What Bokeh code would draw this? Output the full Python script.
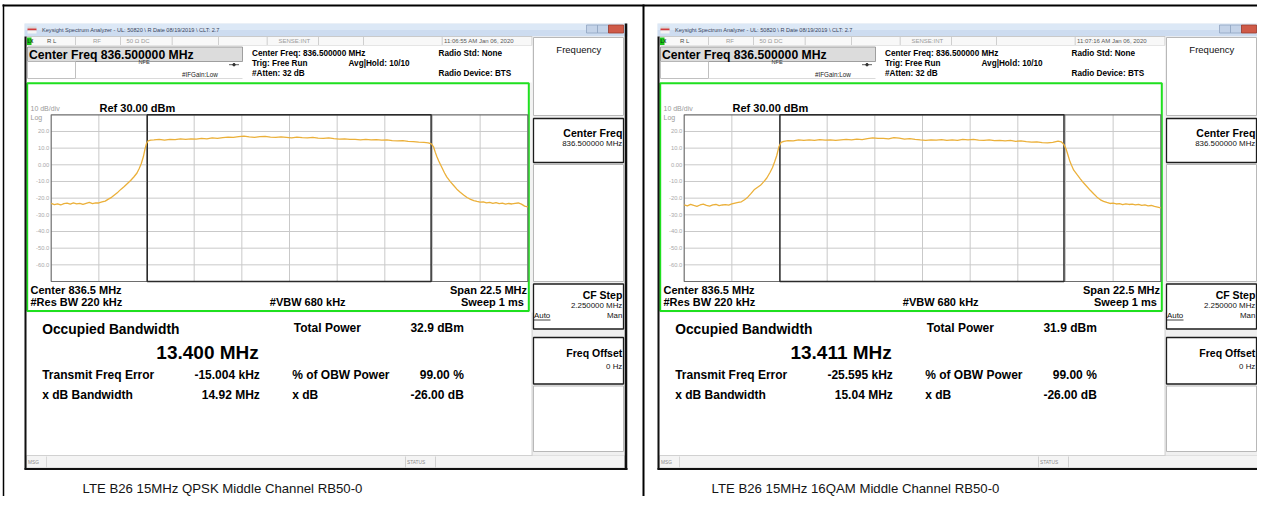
from bokeh.plotting import figure
from bokeh.models import Range1d
from bokeh.core.properties import value
from bokeh.embed import file_html
from bokeh.resources import INLINE

# ---------------- data ----------------
CENTER_MHZ = 836.5
SPAN_MHZ = 22.5
REF_DBM = 30.0
DB_PER_DIV = 10.0
N_DIV = 10
db_tick_values = [20, 10, 0, -10, -20, -30, -40, -50, -60]
db_tick_labels = ["20.0", "10.0", "0.00", "-10.0", "-20.0", "-30.0", "-40.0", "-50.0", "-60.0"]

captions = ["LTE B26 15MHz QPSK Middle Channel RB50-0",
            "LTE B26 15MHz 16QAM Middle Channel RB50-0"]
timestamps = ["11:06:55 AM Jan 06, 2020", "11:07:16 AM Jan 06, 2020"]
occupied_bw_mhz = [13.400, 13.411]
freq_error_khz = [-15.004, -25.595]
total_power_dbm = [32.9, 31.9]
xdb_bw_mhz = [14.92, 15.04]
obw_power_pct = [99.00, 99.00]
xdb_db = [-26.00, -26.00]

qpsk_freq_mhz = [
    825.25, 825.40, 825.55, 825.70, 825.85, 826.00, 826.15, 826.30, 826.45, 826.60,
    826.75, 826.90, 827.05, 827.20, 827.35, 827.50, 827.65, 827.80, 827.95, 828.10,
    828.25, 828.40, 828.55, 828.70, 828.85, 829.00, 829.15, 829.30, 829.40, 829.50,
    829.60, 829.68, 829.75, 829.82, 829.95, 830.10, 830.35, 830.60, 830.85, 831.10,
    831.35, 831.60, 831.85, 832.10, 832.35, 832.60, 832.85, 833.10, 833.35, 833.60,
    833.85, 834.10, 834.35, 834.60, 834.85, 835.10, 835.35, 835.60, 835.85, 836.10,
    836.35, 836.60, 836.85, 837.10, 837.35, 837.60, 837.85, 838.10, 838.35, 838.60,
    838.85, 839.10, 839.35, 839.60, 839.85, 840.10, 840.35, 840.60, 840.85, 841.10,
    841.35, 841.60, 841.85, 842.10, 842.35, 842.60, 842.85, 843.05, 843.20, 843.30,
    843.38, 843.46, 843.54, 843.62, 843.70, 843.82, 843.93, 844.10, 844.25, 844.40,
    844.56, 844.72, 844.88, 845.05, 845.20, 845.35, 845.50, 845.65, 845.80, 845.95,
    846.10, 846.25, 846.40, 846.55, 846.70, 846.85, 847.00, 847.15, 847.30, 847.45,
    847.60, 847.75]
qpsk_dbm = [
    -23.2, -23.9, -23.4, -24.1, -23.3, -23.0, -23.6, -22.9, -23.4, -23.1,
    -23.8, -23.2, -22.6, -23.3, -22.8, -22.9, -22.3, -21.8, -20.6, -19.5,
    -17.9, -16.4, -14.6, -13.0, -11.2, -9.4, -7.3, -4.9, -2.4, 0.6,
    4.8, 9.6, 12.8, 14.3, 14.8, 14.9, 15.2, 14.8, 15.3, 15.1,
    15.5, 15.2, 15.6, 15.4, 15.8, 15.6, 16.1, 15.9, 16.3, 16.6,
    16.4, 16.9, 17.2, 16.8, 16.5, 16.9, 17.0, 16.6, 16.4, 16.8,
    16.5, 16.2, 16.6, 16.3, 16.1, 16.4, 16.0, 15.8, 16.1, 15.7,
    15.4, 15.6, 15.2, 15.3, 15.0, 15.2, 14.9, 15.1, 14.8, 15.0,
    14.5, 14.3, 14.5, 14.0, 13.9, 13.6, 13.4, 13.2, 12.5, 10.8,
    7.6, 4.8, 2.4, 0.3, -1.8, -4.9, -7.4, -10.2, -12.4, -14.6,
    -16.4, -18.1, -19.6, -20.7, -21.5, -22.0, -22.4, -22.2, -22.8, -22.5,
    -23.1, -22.7, -23.3, -23.0, -23.6, -23.2, -23.5, -23.1, -22.9, -23.6,
    -24.8, -25.3]

qam16_freq_mhz = [
    825.25, 825.40, 825.55, 825.70, 825.85, 826.00, 826.15, 826.30, 826.45, 826.60,
    826.75, 826.90, 827.05, 827.20, 827.35, 827.50, 827.65, 827.80, 827.95, 828.10,
    828.25, 828.40, 828.55, 828.70, 828.85, 829.00, 829.15, 829.30, 829.42, 829.52,
    829.62, 829.72, 829.82, 829.95, 830.15, 830.40, 830.65, 830.90, 831.15, 831.40,
    831.65, 831.90, 832.15, 832.40, 832.65, 832.90, 833.15, 833.40, 833.65, 833.90,
    834.15, 834.40, 834.65, 834.90, 835.15, 835.40, 835.65, 835.90, 836.15, 836.40,
    836.65, 836.90, 837.15, 837.40, 837.65, 837.90, 838.15, 838.40, 838.65, 838.90,
    839.15, 839.40, 839.65, 839.90, 840.15, 840.40, 840.65, 840.90, 841.15, 841.40,
    841.65, 841.90, 842.15, 842.40, 842.65, 842.90, 843.05, 843.18, 843.28, 843.36,
    843.44, 843.54, 843.64, 843.80, 843.95, 844.10, 844.26, 844.42, 844.58, 844.74,
    844.90, 845.05, 845.20, 845.35, 845.50, 845.65, 845.80, 845.95, 846.10, 846.25,
    846.40, 846.55, 846.70, 846.85, 847.00, 847.15, 847.30, 847.45, 847.60, 847.75]
qam16_dbm = [
    -24.0, -24.6, -23.7, -24.4, -24.9, -24.1, -23.6, -24.3, -24.8, -24.0,
    -23.8, -24.5, -24.1, -23.9, -24.2, -23.5, -23.0, -22.6, -22.2, -21.0,
    -19.4, -17.3, -15.0, -13.6, -12.3, -10.2, -7.9, -4.6, -1.6, 1.8,
    5.6, 10.8, 13.4, 14.1, 14.5, 14.3, 14.9, 14.6, 15.0, 14.7,
    15.1, 14.8, 15.0, 14.6, 14.9, 15.2, 15.0, 15.4, 15.1, 15.7,
    16.1, 15.8, 15.9, 15.6, 16.3, 16.0, 15.4, 15.7, 15.2, 14.9,
    14.7, 15.0, 14.8, 15.1, 14.6, 14.9, 14.7, 15.2, 15.0, 15.3,
    14.8, 14.6, 14.9, 14.5, 14.7, 14.3, 14.6, 14.1, 14.4, 13.9,
    13.6, 13.8, 13.3, 13.1, 13.5, 14.2, 13.8, 12.1, 9.4, 6.2,
    2.8, -0.4, -3.2, -5.9, -8.4, -10.8, -13.0, -15.3, -17.4, -19.4,
    -21.0, -21.9, -22.6, -23.2, -23.0, -23.5, -23.3, -23.9, -23.4, -23.8,
    -23.6, -24.1, -23.7, -24.3, -24.0, -24.6, -24.4, -25.0, -25.4, -25.8]

traces = [(qpsk_freq_mhz, qpsk_dbm), (qam16_freq_mhz, qam16_dbm)]

# ---------------- canvas ----------------
FONT = "Liberation Sans"
W, H = 1257, 496
X0, Y0 = 0, 0

p = figure(width=W, height=H, x_range=Range1d(X0, X0 + W), y_range=Range1d(Y0 + H, Y0),
           output_backend="svg", toolbar_location=None, tools="", min_border=0,
           x_axis_location=None, y_axis_location=None)
p.grid.visible = False
p.outline_line_color = None
p.background_fill_color = "white"
p.border_fill_color = "white"

extra_x = {}
extra_y = {}


def txt(x, y, s, size, bold=False, color="#000000", align="left", baseline="middle"):
    p.text(x=[x], y=[y], text=[s], text_font=value(FONT), text_font_size=f"{size}px",
           text_font_style="bold" if bold else "normal", text_color=color,
           text_align=align, text_baseline=baseline)


def box(l, r, t, b, fill=None, line=None, lw=1.0):
    p.quad(left=[l], right=[r], top=[t], bottom=[b],
           fill_color=fill if fill else "white", fill_alpha=1.0 if fill else 0.0,
           line_color=line, line_width=lw)


def seg(x0, y0, x1, y1, color="#000000", lw=1.0):
    p.segment(x0=[x0], y0=[y0], x1=[x1], y1=[y1], line_color=color, line_width=lw)


def panel(i, dx):
    # window frame
    box(24 + dx, 627 + dx, 23, 469, fill="#f3f3f3")
    box(24 + dx, 627 + dx, 23, 29.5, fill="#dce8f6")
    box(24 + dx, 627 + dx, 29.5, 36, fill="#cddcf0")
    box(27 + dx, 36 + dx, 26, 28, fill="#d8d8d8")
    box(27 + dx, 36 + dx, 28, 30, fill="#d23c3c")
    box(27 + dx, 36 + dx, 30, 33, fill="#f4f4f4")
    txt(41.5 + dx, 29.8, "Keysight Spectrum Analyzer - UL: 50820 \\ R Date 08/19/2019 \\ CLT: 2.7",
        5.6, color="#3a4660")
    box(586 + dx, 597 + dx, 24.5, 32.5, fill="#c4d3e8", line="#91a5c2", lw=0.8)
    box(597 + dx, 608 + dx, 24.5, 32.5, fill="#c4d3e8", line="#91a5c2", lw=0.8)
    box(608 + dx, 623 + dx, 24.5, 32.5, fill="#cf5a48", line="#9b3a2c", lw=0.8)

    # status row
    box(26 + dx, 531.5 + dx, 36, 45, fill="#f8f8f8", line="#c0c0c0", lw=0.8)
    for sx in [75, 120, 171.7, 218, 266.7, 318, 363, 441.7]:
        seg(sx + dx, 36.5, sx + dx, 44.5, color="#c4c4c4", lw=0.8)
    box(26.5 + dx, 31 + dx, 37, 44.5, fill="#19c419")
    txt(27 + dx, 40.8, "LX", 4.5, bold=True, color="#0a3a0a")
    txt(46.5 + dx, 40.8, "R L", 6, color="#4a4a4a")
    txt(92.5 + dx, 40.8, "RF", 6, color="#9a9a9a")
    txt(126 + dx, 40.8, "50 \u03a9   DC", 6, color="#9a9a9a")
    txt(278 + dx, 40.8, "SENSE:INT", 6, color="#9a9a9a")
    txt(443.5 + dx, 40.8, timestamps[i], 6, color="#5a5a5a")

    # header
    box(26 + dx, 531.5 + dx, 45, 82, fill="#ffffff")
    box(27 + dx, 242 + dx, 46.5, 61, fill="#dcdcdc", line="#8a8a8a", lw=0.8)
    box(27 + dx, 75 + dx, 61, 78, fill="#ffffff", line="#b0b0b0", lw=0.8)
    seg(75 + dx, 78, 242 + dx, 78, color="#d0d0d0", lw=0.8)
    txt(28.5 + dx, 54, "Center Freq 836.500000 MHz", 12.2, bold=True)
    txt(138 + dx, 61.7, "NFE", 5.6, color="#333333")
    txt(181.5 + dx, 74.3, "#IFGain:Low", 6.3, color="#222222")
    seg(228.5 + dx, 64.2, 238.5 + dx, 64.2, color="#333333", lw=0.8)
    p.scatter(x=[233.5 + dx], y=[64.2], size=2.5, color="#333333")
    txt(251.5 + dx, 53.3, "Center Freq: 836.500000 MHz", 8.2, bold=True)
    txt(251.5 + dx, 63.3, "Trig: Free Run", 8.2, bold=True)
    txt(251.5 + dx, 73.3, "#Atten: 32 dB", 8.2, bold=True)
    txt(348 + dx, 63.3, "Avg|Hold: 10/10", 8.2, bold=True)
    txt(438 + dx, 53.3, "Radio Std: None", 8.2, bold=True)
    txt(438 + dx, 73.3, "Radio Device: BTS", 8.2, bold=True)

    # green measurement window
    box(26.7 + dx, 528.3 + dx, 82.7, 310.5, fill="#ffffff", line="#1fe01f", lw=2)
    txt(30 + dx, 107.7, "10 dB/div", 7, color="#9a9a9a")
    txt(30 + dx, 117.3, "Log", 7, color="#9a9a9a")
    txt(99 + dx, 107.7, "Ref 30.00 dBm", 11, bold=True)

    # graticule driven by the frequency / level scales
    gx0, gx1 = 50.7 + dx, 527.3 + dx
    gy0, gy1 = 114.3, 281.0
    f0 = CENTER_MHZ - SPAN_MHZ / 2
    f1 = CENTER_MHZ + SPAN_MHZ / 2
    s = (f1 - f0) / (gx1 - gx0)
    top = REF_DBM
    bot = REF_DBM - DB_PER_DIV * N_DIV
    k = (top - bot) / (gy1 - gy0)
    xn, yn = f"f{i}", f"a{i}"
    extra_x[xn] = Range1d(f0 - (gx0 - X0) * s, f1 + (X0 + W - gx1) * s)
    extra_y[yn] = Range1d(bot - (Y0 + H - gy1) * k, top + (gy0 - Y0) * k)
    kw = dict(x_range_name=xn, y_range_name=yn)

    vx = [f0 + j * SPAN_MHZ / N_DIV for j in range(1, N_DIV)]
    p.segment(x0=vx, y0=[bot] * len(vx), x1=vx, y1=[top] * len(vx),
              line_color="#c9c9c9", line_width=1, **kw)
    hy = [top - j * DB_PER_DIV for j in range(1, N_DIV)]
    p.segment(x0=[f0] * len(hy), y0=hy, x1=[f1] * len(hy), y1=hy,
              line_color="#c9c9c9", line_width=1, **kw)
    p.quad(left=[f0], right=[f1], top=[top], bottom=[bot], fill_alpha=0,
           line_color="#6e6e6e", line_width=1.2, **kw)
    c = CENTER_MHZ + freq_error_khz[i] / 1000.0
    lo, hi = c - occupied_bw_mhz[i] / 2, c + occupied_bw_mhz[i] / 2
    p.quad(left=[lo], right=[hi], top=[top], bottom=[bot], fill_alpha=0,
           line_color="#2b2b2b", line_width=1.5, **kw)
    p.text(x=[gx0 - 2] * len(db_tick_values), y=db_tick_values, text=db_tick_labels,
           y_range_name=yn, text_font=value(FONT), text_font_size="5.8px",
           text_color="#a8a8a8", text_align="right", text_baseline="middle")
    fr, lv = traces[i]
    p.line(x=fr, y=lv, line_color="#ebb03a", line_width=1.3, **kw)

    txt(30 + dx, 289.3, "Center  836.5 MHz", 11, bold=True)
    txt(30 + dx, 301.7, "#Res BW  220 kHz", 11, bold=True)
    txt(308.7 + dx, 301.7, "#VBW  680 kHz", 11, bold=True, align="center")
    txt(526.5 + dx, 289.3, "Span 22.5 MHz", 11, bold=True, align="right")
    txt(526.5 + dx, 301.7, "Sweep  1 ms", 11, bold=True, align="right")

    # results area
    box(26 + dx, 531.5 + dx, 312, 455, fill="#ffffff")
    seg(531.7 + dx, 312, 531.7 + dx, 455, color="#b8b8b8", lw=1)
    txt(41.7 + dx, 328.8, "Occupied Bandwidth", 13.8, bold=True)
    txt(258.3 + dx, 351.7, f"{occupied_bw_mhz[i]:.3f} MHz", 19, bold=True, align="right")
    txt(293.3 + dx, 327.3, "Total Power", 12, bold=True)
    txt(463.3 + dx, 327.3, f"{total_power_dbm[i]:.1f} dBm", 12, bold=True, align="right")
    txt(41.7 + dx, 374.5, "Transmit Freq Error", 12, bold=True)
    txt(259.3 + dx, 374.5, f"{freq_error_khz[i]:.3f} kHz", 12, bold=True, align="right")
    txt(291.7 + dx, 374.5, "% of OBW Power", 12, bold=True)
    txt(463.3 + dx, 374.5, f"{obw_power_pct[i]:.2f} %", 12, bold=True, align="right")
    txt(41.7 + dx, 394.5, "x dB Bandwidth", 12, bold=True)
    txt(259.3 + dx, 394.5, f"{xdb_bw_mhz[i]:.2f} MHz", 12, bold=True, align="right")
    txt(291.7 + dx, 394.5, "x dB", 12, bold=True)
    txt(463.3 + dx, 394.5, f"{xdb_db[i]:.2f} dB", 12, bold=True, align="right")

    # message bar
    box(26 + dx, 624 + dx, 455, 467.5, fill="#f4f4f4", line="#c8c8c8", lw=0.8)
    seg(46 + dx, 456, 46 + dx, 467, color="#d0d0d0", lw=0.8)
    seg(405 + dx, 456, 405 + dx, 467, color="#c8c8c8", lw=0.8)
    seg(435 + dx, 456, 435 + dx, 467, color="#c8c8c8", lw=0.8)
    txt(27.5 + dx, 462, "MSG", 4.8, color="#8a8a8a")
    txt(406.5 + dx, 462, "STATUS", 4.8, color="#8a8a8a")

    # soft keys
    box(532 + dx, 624 + dx, 36, 455, fill="#f0f0f0")
    box(533 + dx, 623 + dx, 37, 115, fill="#ffffff", line="#b8b8b8", lw=1)
    box(533 + dx, 623 + dx, 118, 162, fill="#ffffff", line="#1c1c1c", lw=1.3)
    box(533 + dx, 623 + dx, 164, 281, fill="#ffffff", line="#b8b8b8", lw=1)
    box(533 + dx, 623 + dx, 283.5, 328.5, fill="#ffffff", line="#1c1c1c", lw=1.3)
    box(533 + dx, 623 + dx, 337, 383.5, fill="#ffffff", line="#1c1c1c", lw=1.3)
    box(533 + dx, 623 + dx, 385.5, 451, fill="#ffffff", line="#b8b8b8", lw=1)
    txt(578.3 + dx, 49, "Frequency", 9.5, align="center", color="#111111")
    txt(621.8 + dx, 132.7, "Center Freq", 10.5, bold=True, align="right")
    txt(621.8 + dx, 143.3, "836.500000 MHz", 7.9, align="right", color="#111111")
    txt(621.8 + dx, 294.3, "CF Step", 10.5, bold=True, align="right")
    txt(621.8 + dx, 305, "2.250000 MHz", 7.9, align="right", color="#111111")
    txt(533.5 + dx, 315, "Auto", 7.9, color="#111111")
    seg(533.5 + dx, 319.5, 550 + dx, 319.5, color="#111111", lw=0.8)
    txt(621.8 + dx, 315, "Man", 7.9, align="right", color="#111111")
    txt(621.8 + dx, 352, "Freq Offset", 10.5, bold=True, align="right")
    txt(621.8 + dx, 366, "0 Hz", 7.9, align="right", color="#111111")

    # window border
    seg(25 + dx, 36, 25 + dx, 469, color="#111111", lw=2)
    seg(24 + dx, 468.5, 627 + dx, 468.5, color="#111111", lw=2)
    seg(625.5 + dx, 23, 625.5 + dx, 469, color="#111111", lw=2.5)

    # caption
    cx = 222 + dx
    txt(cx, 488, captions[i], 13.2, color="#141414", align="center")


# outer table lines
seg(2, 5, 1257, 5, color="#000000", lw=2)
seg(3, 4, 3, 496, color="#000000", lw=1.5)
seg(643, 4, 643, 496, color="#000000", lw=2)

panel(0, 0)
panel(1, 633)

p.extra_x_ranges = extra_x
p.extra_y_ranges = extra_y

open("out.html", "w").write(file_html(p, INLINE))
